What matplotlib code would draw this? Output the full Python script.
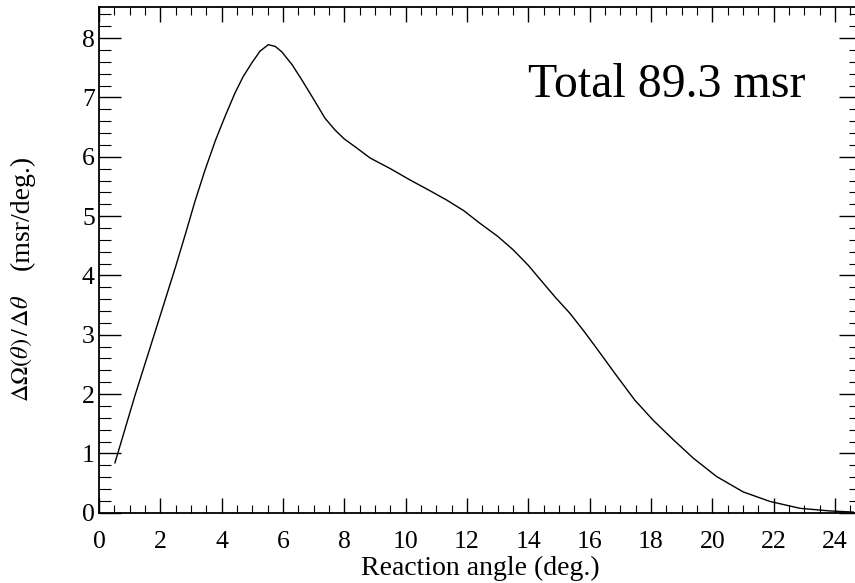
import numpy as np
import matplotlib
matplotlib.use('Agg')
import matplotlib.pyplot as plt
from matplotlib.ticker import MultipleLocator

plt.rcParams['font.family'] = ['Liberation Serif', 'DejaVu Serif']
plt.rcParams['mathtext.fontset'] = 'stix'

# -----Acceptance vs reaction angle-----
angle = [0.52, 1.17, 1.83, 2.50, 2.86, 3.13, 3.46, 3.80, 4.11, 4.43, 4.70, 4.98,
         5.25, 5.52, 5.75, 5.96, 6.30, 6.61, 7.00, 7.37, 7.70, 8.00, 8.35, 8.84,
         9.50, 10.14, 10.75, 11.34, 11.90, 12.42, 13.00, 13.51, 14.00, 14.49,
         14.90, 15.36, 15.80, 16.23, 16.85, 17.47, 18.07, 18.73, 19.38, 20.14,
         21.01, 21.88, 22.86, 23.83, 24.60]
d_omega = [0.84, 1.97, 3.05, 4.15, 4.77, 5.25, 5.78, 6.28, 6.68, 7.07, 7.35, 7.58,
           7.78, 7.89, 7.86, 7.77, 7.55, 7.30, 6.97, 6.65, 6.45, 6.30, 6.17, 5.98,
           5.80, 5.61, 5.44, 5.27, 5.09, 4.88, 4.66, 4.43, 4.17, 3.87,
           3.62, 3.36, 3.07, 2.77, 2.33, 1.90, 1.56, 1.23, 0.92, 0.61,
           0.35, 0.19, 0.074, 0.03, 0.01]

x_ticks = np.arange(0, 25, 2)
y_ticks = np.arange(0, 9, 1)

fig = plt.figure(figsize=(8.55, 5.83), dpi=100)
# right spine sits just outside the picture, like in the original
ax = fig.add_axes([99/855, 70.3/583, (861-99)/855, (512.7-7.3)/583])

ax.plot(angle, d_omega, color='black', lw=1.0)

ax.set_xlim(0, 24.85)
ax.set_ylim(0, 8.52)
ax.set_xticks(x_ticks)
ax.set_yticks(y_ticks)
ax.xaxis.set_minor_locator(MultipleLocator(0.5))
ax.yaxis.set_minor_locator(MultipleLocator(0.2))

for s in ax.spines.values():
    s.set_linewidth(1.3)

ax.tick_params(axis='x', which='both', direction='in', top=True, labelsize=18.5, pad=13, width=1.0)
ax.tick_params(axis='x', which='major', length=11)
ax.tick_params(axis='x', which='minor', length=5.5, width=0.8)
ax.tick_params(axis='y', which='both', direction='in', right=True, labelsize=18.5, pad=3, width=1.0)
ax.tick_params(axis='y', which='major', length=16)
ax.tick_params(axis='y', which='minor', length=8.4, width=0.8)

ax.set_xlabel('Reaction angle (deg.)', fontsize=20, labelpad=2)

# y label in two pieces: the math part is set a bit smaller in the original
ax.text(-0.101, 0.326, r'$\Delta\Omega(\theta)\,/\,\Delta\theta$', transform=ax.transAxes,
        fontsize=17.5, rotation=90, ha='center', va='center')
ax.text(-0.101, 0.595, '(msr/deg.)', transform=ax.transAxes,
        fontsize=20, rotation=90, ha='center', va='center')

ax.text(0.563, 0.8225, 'Total 89.3 msr', transform=ax.transAxes, fontsize=34.5,
        ha='left', va='baseline')

fig.savefig('out.png', dpi=100)
